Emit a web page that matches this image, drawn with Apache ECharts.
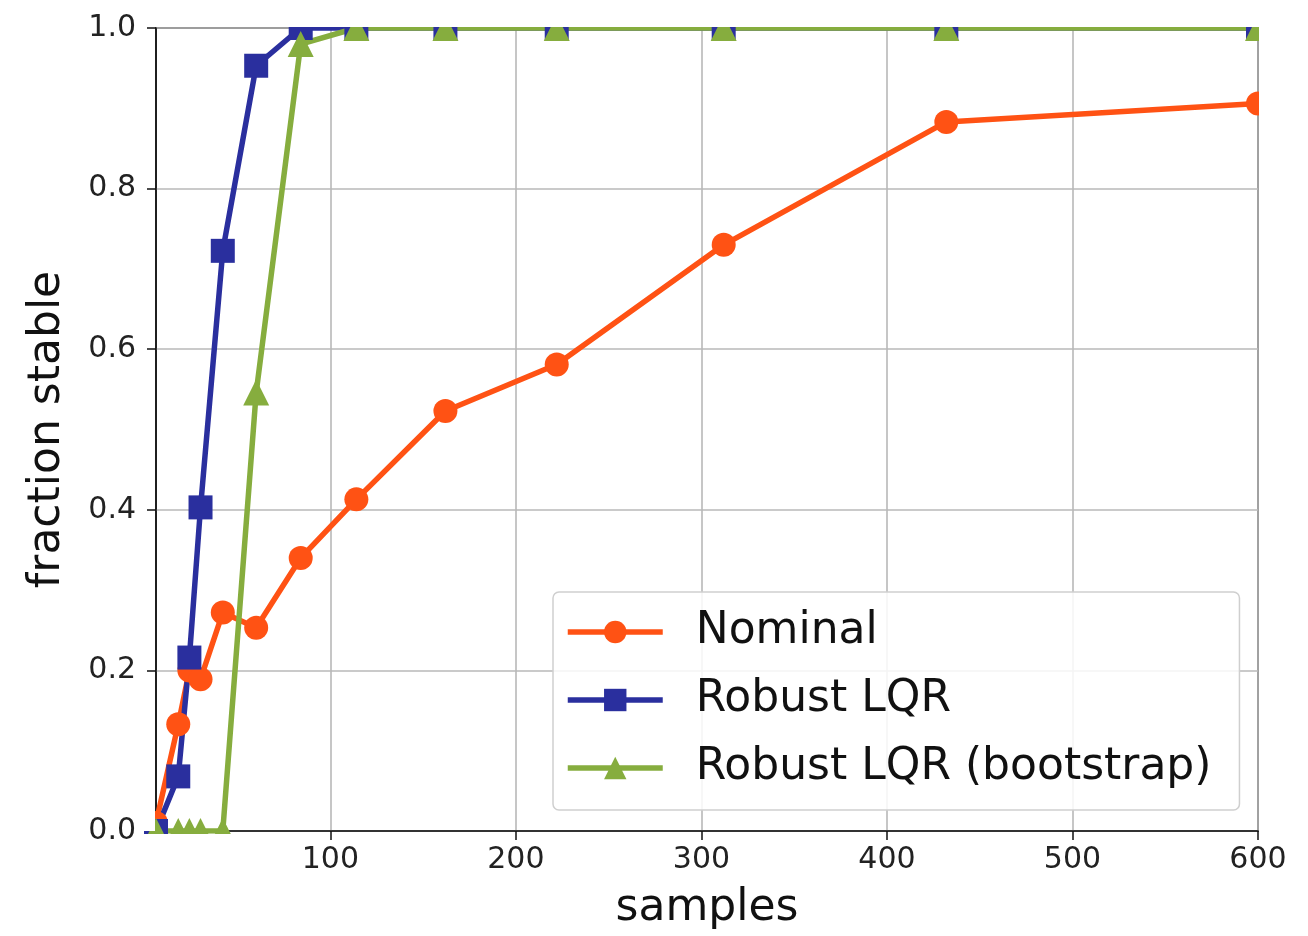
<!DOCTYPE html>
<html>
<head>
<meta charset="utf-8">
<script src="https://cdn.jsdelivr.net/npm/echarts@6/dist/echarts.min.js"></script>
<style>
html, body { margin: 0; padding: 0; background: #fff; }
#chart { width: 1308px; height: 936px; }
</style>
</head>
<body>
<div id="chart"></div>
<script>
var samples = [6, 18, 24, 30, 42, 60, 84, 114, 162, 222, 312, 432, 600]
var nominal = [0.01, 0.133, 0.20, 0.189, 0.272, 0.253, 0.34, 0.413, 0.523, 0.581, 0.73, 0.883, 0.906]
var robust = [0, 0.068, 0.216, 0.403, 0.7225, 0.953, 1, 1, 1, 1, 1, 1, 1]
var bootstrap = [0, 0, 0, 0, 0, 0.546, 0.98, 1, 1, 1, 1, 1, 1]
var xTicks = [100, 200, 300, 400, 500, 600]

var font = 'DejaVu Sans'

function pairs (ys) {
  var out = []
  for (var i = 0; i < samples.length; i++) {
    out.push([samples[i], ys[i]])
  }
  return out
}

function lineSeries (name, ys, color, symbol, size) {
  return {
    name: name,
    type: 'line',
    data: pairs(ys),
    clip: true,
    symbol: symbol,
    symbolSize: size,
    showAllSymbol: true,
    lineStyle: { color: color, width: 5.5 },
    itemStyle: { color: color },
    emphasis: { disabled: true }
  }
}

// white masks so markers sitting on the frame get cut like in the original
function mask (x, y, w, h) {
  return { type: 'rect', zlevel: 1, z: 100, silent: true, shape: { x: x, y: y, width: w, height: h }, style: { fill: '#fff' } }
}

var chart = echarts.init(document.getElementById('chart'))
chart.setOption({
  animation: false,
  backgroundColor: '#ffffff',
  grid: {
    left: 156,
    right: 50,
    top: 28,
    bottom: 104,
    show: true,
    borderColor: '#111',
    borderWidth: 1.5,
    backgroundColor: 'transparent'
  },
  xAxis: {
    type: 'value',
    min: 6,
    max: 600,
    name: 'samples',
    nameLocation: 'middle',
    nameGap: 56,
    nameTextStyle: { fontFamily: font, fontSize: 44, color: '#111' },
    axisLine: { lineStyle: { color: '#111', width: 1.5 } },
    axisTick: { show: true, length: 9, customValues: xTicks, lineStyle: { color: '#111', width: 1.5 } },
    axisLabel: { customValues: xTicks, margin: 14, fontFamily: font, fontSize: 30, color: '#222' },
    splitLine: { show: true, lineStyle: { color: '#b8b8b8', width: 1.6 } }
  },
  yAxis: {
    type: 'value',
    min: 0,
    max: 1,
    interval: 0.2,
    name: 'fraction stable',
    nameLocation: 'middle',
    nameGap: 86,
    nameTextStyle: { fontFamily: font, fontSize: 44, color: '#111' },
    axisLine: { show: true, lineStyle: { color: '#111', width: 1.5 } },
    axisTick: { show: true, length: 9, lineStyle: { color: '#111', width: 1.5 } },
    axisLabel: {
      margin: 20,
      fontFamily: font,
      fontSize: 30,
      color: '#222',
      formatter: function (v) { return v.toFixed(1) }
    },
    splitLine: { show: true, lineStyle: { color: '#b8b8b8', width: 1.6 } }
  },
  legend: {
    orient: 'vertical',
    left: 553,
    top: 592,
    padding: [18, 28, 20, 12],
    itemWidth: 95,
    itemHeight: 28,
    itemGap: 24,
    backgroundColor: 'rgba(255,255,255,0.85)',
    borderColor: '#cfcfcf',
    borderWidth: 1.5,
    borderRadius: 6,
    lineStyle: { width: 5.5 },
    textStyle: { fontFamily: font, fontSize: 44, lineHeight: 44, color: '#111', padding: [0, 0, 0, 28] },
    data: ['Nominal', 'Robust LQR', 'Robust LQR (bootstrap)']
  },
  series: [
    lineSeries('Nominal', nominal, '#ff5214', 'circle', 24),
    lineSeries('Robust LQR', robust, '#2a2f9e', 'rect', 24),
    lineSeries('Robust LQR (bootstrap)', bootstrap, '#86ad3e', 'triangle', 26)
  ],
  graphic: {
    elements: [
      mask(157, 0, 1151, 27),
      mask(1259, 0, 49, 831),
      mask(136, 800, 19, 31),
      mask(136, 834, 110, 12)
    ]
  }
})
</script>
</body>
</html>
